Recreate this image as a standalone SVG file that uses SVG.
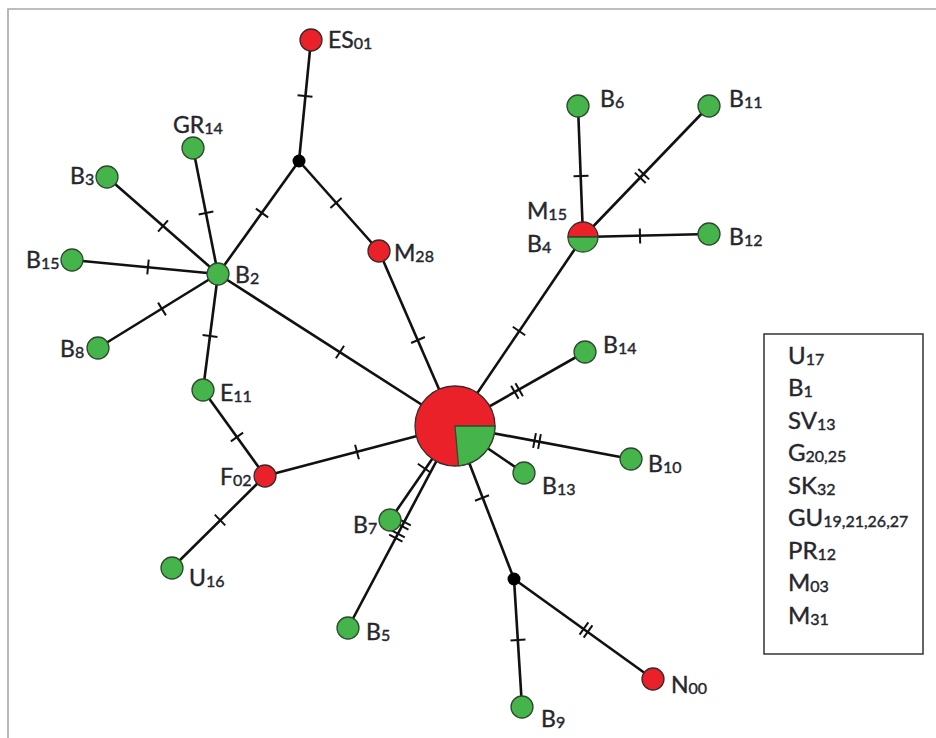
<svg xmlns="http://www.w3.org/2000/svg" xmlns:xlink="http://www.w3.org/1999/xlink" width="936" height="738" viewBox="0 0 936 738">
<style>
.e{stroke:#111;stroke-width:2.6;fill:none}
.tk{stroke:#111;stroke-width:2;fill:none}
.r{fill:#ea2128;stroke:#3a2a2a;stroke-width:1.3}
.g{fill:#45b44a;stroke:#2f4a2f;stroke-width:1.3}
.j{fill:#000}
.lb{font-family:Lato,"Noto Sans","Liberation Sans",sans-serif;font-size:23px;fill:#26262e;stroke:#26262e;stroke-width:0.4}
.lg{font-family:Lato,"Noto Sans","Liberation Sans",sans-serif;font-size:24px;fill:#26262e;stroke:#26262e;stroke-width:0.4}
.s{font-size:16px}
</style>
<defs>
<line id="t1" x1="0" y1="-7.5" x2="0" y2="7.5"/>
<g id="t2"><line x1="-2.5" y1="-7.5" x2="-2.5" y2="7.5"/><line x1="2.5" y1="-7.5" x2="2.5" y2="7.5"/></g>
</defs>
<rect width="936" height="738" fill="#fff"/>
<path d="M8,738 V9 H936" fill="none" stroke="#a8a8a8" stroke-width="1.6"/>
<g id="connectors">
<g class="e">
<line x1="311" y1="40" x2="299" y2="161"/>
<line x1="299" y1="161" x2="218" y2="274"/>
<line x1="299" y1="161" x2="379" y2="251"/>
<line x1="379" y1="251" x2="455" y2="426"/>
<line x1="193" y1="148" x2="218" y2="274"/>
<line x1="107" y1="177" x2="218" y2="274"/>
<line x1="72" y1="260" x2="218" y2="274"/>
<line x1="98" y1="348" x2="218" y2="274"/>
<line x1="218" y1="274" x2="203" y2="390"/>
<line x1="218" y1="274" x2="455" y2="426"/>
<line x1="203" y1="390" x2="265" y2="476"/>
<line x1="265" y1="476" x2="455" y2="426"/>
<line x1="265" y1="476" x2="172" y2="568"/>
<line x1="578" y1="106" x2="583" y2="237"/>
<line x1="709" y1="106" x2="583" y2="237"/>
<line x1="583" y1="237" x2="709" y2="234"/>
<line x1="583" y1="237" x2="455" y2="426"/>
<line x1="585" y1="352" x2="455" y2="426"/>
<line x1="455" y1="426" x2="631" y2="459"/>
<line x1="455" y1="426" x2="524" y2="473"/>
<line x1="455" y1="426" x2="514" y2="579"/>
<line x1="514" y1="579" x2="522" y2="707"/>
<line x1="514" y1="579" x2="653" y2="679"/>
<line x1="390" y1="520" x2="455" y2="426"/>
<line x1="348" y1="628" x2="455" y2="426"/>
</g>
<g class="tk">
<use xlink:href="#t1" transform="translate(305,96) rotate(95.7)"/>
<use xlink:href="#t1" transform="translate(262,213) rotate(125.6)"/>
<use xlink:href="#t1" transform="translate(336,203) rotate(48.4)"/>
<use xlink:href="#t1" transform="translate(418,340) rotate(66.5)"/>
<use xlink:href="#t1" transform="translate(206,213) rotate(78.8)"/>
<use xlink:href="#t1" transform="translate(163,226) rotate(41.2)"/>
<use xlink:href="#t1" transform="translate(148,267) rotate(5.5)"/>
<use xlink:href="#t1" transform="translate(162,309) rotate(-31.7)"/>
<use xlink:href="#t1" transform="translate(210,336) rotate(97.4)"/>
<use xlink:href="#t1" transform="translate(340,352) rotate(32.7)"/>
<use xlink:href="#t1" transform="translate(237,437) rotate(54.2)"/>
<use xlink:href="#t1" transform="translate(357,452) rotate(-14.7)"/>
<use xlink:href="#t1" transform="translate(220,520) rotate(135.3)"/>
<use xlink:href="#t1" transform="translate(581,176) rotate(87.8)"/>
<use xlink:href="#t2" transform="translate(642,176) rotate(133.9)"/>
<use xlink:href="#t1" transform="translate(640,236) rotate(-1.4)"/>
<use xlink:href="#t1" transform="translate(519,331) rotate(124.1)"/>
<use xlink:href="#t2" transform="translate(517,391) rotate(150.4)"/>
<use xlink:href="#t2" transform="translate(537,441) rotate(10.6)"/>
<use xlink:href="#t1" transform="translate(482,498) rotate(68.9)"/>
<use xlink:href="#t1" transform="translate(518,640) rotate(86.4)"/>
<use xlink:href="#t2" transform="translate(586,630) rotate(35.7)"/>
<use xlink:href="#t1" transform="translate(424,468) rotate(-55.3)"/>
<use xlink:href="#t2" transform="translate(403,524) rotate(-62.1)"/>
<use xlink:href="#t2" transform="translate(397,536) rotate(-62.1)"/>
</g>
</g>
<g id="main">
<circle class="r" cx="455" cy="426" r="40"/>
<path class="g" d="M455,426 L495,426 A40,40 0 0,1 458.5,465.8 Z"/>
</g>
<g id="J1"><circle class="j" cx="299" cy="161" r="6.5"/></g>
<g id="J2"><circle class="j" cx="514" cy="579" r="6.5"/></g>
<g id="ES01"><circle class="r" cx="311" cy="40" r="11"/><text class="lb" x="328" y="48">ES<tspan class="s" dy="1">01</tspan></text></g>
<g id="GR14"><circle class="g" cx="193" cy="148" r="11"/><text class="lb" x="173" y="133">GR<tspan class="s" dy="1">14</tspan></text></g>
<g id="B3"><circle class="g" cx="107" cy="177" r="11"/><text class="lb" x="70" y="184">B<tspan class="s" dy="1">3</tspan></text></g>
<g id="B15"><circle class="g" cx="72" cy="260" r="11"/><text class="lb" x="26" y="268">B<tspan class="s" dy="1">15</tspan></text></g>
<g id="B2"><circle class="g" cx="218" cy="274" r="11"/><text class="lb" x="235" y="283">B<tspan class="s" dy="1">2</tspan></text></g>
<g id="B8"><circle class="g" cx="98" cy="348" r="11"/><text class="lb" x="60" y="357">B<tspan class="s" dy="1">8</tspan></text></g>
<g id="E11"><circle class="g" cx="203" cy="390" r="11"/><text class="lb" x="220" y="401">E<tspan class="s" dy="1">11</tspan></text></g>
<g id="F02"><circle class="r" cx="265" cy="476" r="11"/><text class="lb" x="220" y="485">F<tspan class="s" dy="1">02</tspan></text></g>
<g id="U16"><circle class="g" cx="172" cy="568" r="11"/><text class="lb" x="189" y="586">U<tspan class="s" dy="1">16</tspan></text></g>
<g id="M28"><circle class="r" cx="379" cy="251" r="11"/><text class="lb" x="394" y="261">M<tspan class="s" dy="1">28</tspan></text></g>
<g id="B6"><circle class="g" cx="578" cy="106" r="11"/><text class="lb" x="600" y="107">B<tspan class="s" dy="1">6</tspan></text></g>
<g id="B11"><circle class="g" cx="709" cy="106" r="11"/><text class="lb" x="729" y="107">B<tspan class="s" dy="1">11</tspan></text></g>
<g id="B4">
<path class="r" d="M568,237 A15,15 0 0,1 598,237 Z"/>
<path class="g" d="M568,237 A15,15 0 0,0 598,237 Z"/>
<text class="lb" x="527" y="219">M<tspan class="s" dy="1">15</tspan></text>
<text class="lb" x="527" y="252">B<tspan class="s" dy="1">4</tspan></text>
</g>
<g id="B12"><circle class="g" cx="709" cy="234" r="11"/><text class="lb" x="729" y="245">B<tspan class="s" dy="1">12</tspan></text></g>
<g id="B14"><circle class="g" cx="585" cy="352" r="11"/><text class="lb" x="603" y="353">B<tspan class="s" dy="1">14</tspan></text></g>
<g id="B10"><circle class="g" cx="631" cy="459" r="11"/><text class="lb" x="648" y="472">B<tspan class="s" dy="1">10</tspan></text></g>
<g id="B13"><circle class="g" cx="524" cy="473" r="11"/><text class="lb" x="542" y="494">B<tspan class="s" dy="1">13</tspan></text></g>
<g id="B7"><circle class="g" cx="390" cy="520" r="11"/><text class="lb" x="353" y="533">B<tspan class="s" dy="1">7</tspan></text></g>
<g id="B5"><circle class="g" cx="348" cy="628" r="11"/><text class="lb" x="366" y="640">B<tspan class="s" dy="1">5</tspan></text></g>
<g id="B9"><circle class="g" cx="522" cy="707" r="11"/><text class="lb" x="541" y="727">B<tspan class="s" dy="1">9</tspan></text></g>
<g id="N00"><circle class="r" cx="653" cy="679" r="11"/><text class="lb" x="671" y="693">N<tspan class="s" dy="1">00</tspan></text></g>
<g id="legend">
<rect x="764" y="334" width="159" height="320" fill="#fff" stroke="#333" stroke-width="1.5"/>
<text class="lg" x="788" y="363.5">U<tspan class="s" dy="1">17</tspan></text>
<text class="lg" x="788" y="396">B<tspan class="s" dy="1">1</tspan></text>
<text class="lg" x="788" y="428.5">SV<tspan class="s" dy="1">13</tspan></text>
<text class="lg" x="788" y="461">G<tspan class="s" dy="1">20,25</tspan></text>
<text class="lg" x="788" y="493.5">SK<tspan class="s" dy="1">32</tspan></text>
<text class="lg" x="788" y="526">GU<tspan class="s" dy="1">19,21,26,27</tspan></text>
<text class="lg" x="788" y="558.5">PR<tspan class="s" dy="1">12</tspan></text>
<text class="lg" x="788" y="591">M<tspan class="s" dy="1">03</tspan></text>
<text class="lg" x="788" y="623.5">M<tspan class="s" dy="1">31</tspan></text>
</g>
</svg>
